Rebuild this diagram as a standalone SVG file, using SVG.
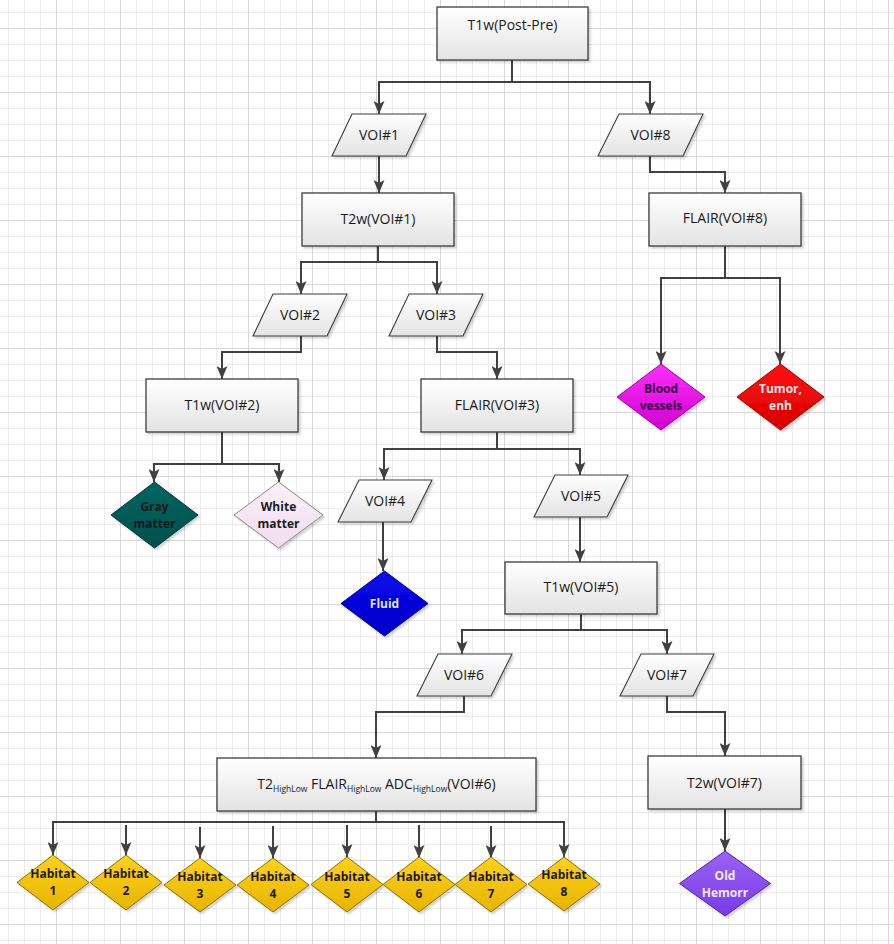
<svg xmlns="http://www.w3.org/2000/svg" width="894" height="944" viewBox="0 0 894 944">
<style>
.box{stroke:#3c3c3c;stroke-width:1.3;fill:url(#gBox);filter:url(#sh)}
.io{stroke:#3c3c3c;stroke-width:1.1;fill:url(#gBox);filter:url(#sh)}
.t{font-family:"Open Sans","Liberation Sans",sans-serif;font-size:14px;fill:#1a1a1a;text-anchor:middle}
.d{font-family:"Open Sans","Liberation Sans",sans-serif;font-size:12px;font-weight:bold;text-anchor:middle}
.dia{stroke-width:1;filter:url(#sh)}
.c{fill:none;stroke:#404040;stroke-width:2}
.ca{fill:none;stroke:#404040;stroke-width:2;marker-end:url(#arr)}
</style>
<defs>
<pattern id="minor" x="8" y="12" width="16" height="16" patternUnits="userSpaceOnUse">
<path d="M0.5,0 V16 M0,0.5 H16" stroke="#ececec" stroke-width="1" fill="none"/>
</pattern>
<pattern id="major" x="56" y="28" width="64" height="64" patternUnits="userSpaceOnUse">
<path d="M0.5,0 V64 M0,0.5 H64" stroke="#d8d8d8" stroke-width="1" fill="none"/>
</pattern>
<linearGradient id="gBox" x1="0" y1="0" x2="0" y2="1"><stop offset="0" stop-color="#ffffff"/><stop offset="1" stop-color="#e3e3e3"/></linearGradient>
<linearGradient id="gGray" x1="0" y1="0" x2="0" y2="1"><stop offset="0" stop-color="#006662"/><stop offset="1" stop-color="#004f4c"/></linearGradient>
<linearGradient id="gWhite" x1="0" y1="0" x2="0" y2="1"><stop offset="0" stop-color="#faf0f8"/><stop offset="1" stop-color="#f1dcef"/></linearGradient>
<linearGradient id="gBlood" x1="0" y1="0" x2="0" y2="1"><stop offset="0" stop-color="#ff30ff"/><stop offset="1" stop-color="#cf00cf"/></linearGradient>
<linearGradient id="gTumor" x1="0" y1="0" x2="0" y2="1"><stop offset="0" stop-color="#ff1010"/><stop offset="1" stop-color="#d80000"/></linearGradient>
<linearGradient id="gFluid" x1="0" y1="0" x2="0" y2="1"><stop offset="0" stop-color="#0a0aec"/><stop offset="1" stop-color="#0000c8"/></linearGradient>
<linearGradient id="gHab" x1="0" y1="0" x2="0" y2="1"><stop offset="0" stop-color="#ffd21a"/><stop offset="1" stop-color="#e6b400"/></linearGradient>
<linearGradient id="gOld" x1="0" y1="0" x2="0" y2="1"><stop offset="0" stop-color="#9c62f6"/><stop offset="1" stop-color="#773be6"/></linearGradient>
<filter id="sh" x="-10%" y="-10%" width="130%" height="130%">
<feDropShadow dx="2" dy="2" stdDeviation="1.2" flood-color="#000" flood-opacity="0.18"/>
</filter>
<marker id="arr" viewBox="0 0 11 13" refX="5.5" refY="13" markerWidth="11" markerHeight="13" markerUnits="userSpaceOnUse" orient="0">
<path d="M0,0 L5.5,3 L11,0 L5.5,13 Z" fill="#404040"/>
</marker>
</defs>
<rect width="894" height="944" fill="#ffffff"/>
<rect width="894" height="944" fill="url(#minor)"/>
<rect width="894" height="944" fill="url(#major)"/>

<g id="connectors">
<path class="ca" d="M512,60 V82 H379 V114"/>
<path class="ca" d="M512,82 H650 V114"/>
<path class="ca" d="M650,156 V172 H725 V193"/>
<path class="ca" d="M379,156 V193"/>
<path class="ca" d="M378,246 V262 H301 V294"/>
<path class="ca" d="M378,262 H437 V294"/>
<path class="ca" d="M301,336 V352 H222 V379"/>
<path class="ca" d="M437,336 V352 H497 V379"/>
<path class="ca" d="M725,246 V278 H661 V364"/>
<path class="ca" d="M725,278 H780 V364"/>
<path class="ca" d="M222,432 V464 H154 V482"/>
<path class="ca" d="M222,464 H279 V482"/>
<path class="ca" d="M497,432 V449 H384 V480"/>
<path class="ca" d="M497,449 H580 V475"/>
<path class="ca" d="M383,522 V571"/>
<path class="ca" d="M580,517 V562"/>
<path class="ca" d="M581,614 V630 H462 V654"/>
<path class="ca" d="M581,630 H667 V654"/>
<path class="ca" d="M464,696 V712 H376 V758"/>
<path class="ca" d="M667,696 V712 H725 V756"/>
<path class="ca" d="M725,809 V851"/>
<path class="ca" d="M376,811 V822 H53 V855"/>
<path class="ca" d="M376,822 H564 V857"/>
<path class="ca" d="M126,825 V855"/>
<path class="ca" d="M200,827 V858"/>
<path class="ca" d="M273,826 V858"/>
<path class="ca" d="M347,825 V857"/>
<path class="ca" d="M419,825 V858"/>
<path class="ca" d="M491,826 V858"/>
</g>

<g id="n-t1w-postpre">
<rect class="box" x="437" y="7" width="151" height="53"/>
<text class="t" x="512.5" y="30">T1w(Post-Pre)</text>
</g>
<g id="n-voi1">
<polygon class="io" points="352,114 426,114 406,156 332,156"/>
<text class="t" x="379" y="140">VOI#1</text>
</g>
<g id="n-voi8">
<polygon class="io" points="619,114 703,114 683,156 598,156"/>
<text class="t" x="650.5" y="140">VOI#8</text>
</g>
<g id="n-t2w-voi1">
<rect class="box" x="302" y="193" width="152" height="53"/>
<text class="t" x="378" y="224">T2w(VOI#1)</text>
</g>
<g id="n-flair-voi8">
<rect class="box" x="649" y="193" width="152" height="53"/>
<text class="t" x="725" y="223">FLAIR(VOI#8)</text>
</g>
<g id="n-voi2">
<polygon class="io" points="273,294 347,294 327,336 253,336"/>
<text class="t" x="300" y="320">VOI#2</text>
</g>
<g id="n-voi3">
<polygon class="io" points="409,294 483,294 463,336 389,336"/>
<text class="t" x="436" y="320">VOI#3</text>
</g>
<g id="n-t1w-voi2">
<rect class="box" x="146" y="379" width="152" height="53"/>
<text class="t" x="222" y="410">T1w(VOI#2)</text>
</g>
<g id="n-flair-voi3">
<rect class="box" x="421" y="379" width="152" height="53"/>
<text class="t" x="497" y="410">FLAIR(VOI#3)</text>
</g>
<g id="n-blood">
<polygon class="dia" fill="url(#gBlood)" stroke="#a000a0" points="661,364 705,397 661,430 617,397"/>
<text class="d" x="661" y="393" fill="#3a0040">Blood</text>
<text class="d" x="661" y="410" fill="#3a0040">vessels</text>
</g>
<g id="n-tumor">
<polygon class="dia" fill="url(#gTumor)" stroke="#a00000" points="780.5,364 824,397 780.5,430 737,397"/>
<text class="d" x="780.5" y="393" fill="#ffe6e6">Tumor,</text>
<text class="d" x="780.5" y="410" fill="#ffe6e6">enh</text>
</g>
<g id="n-gray">
<polygon class="dia" fill="url(#gGray)" stroke="#003835" points="154.5,482 198,515 154.5,548 111,515"/>
<text class="d" x="154.5" y="511" fill="#1a1a1a">Gray</text>
<text class="d" x="154.5" y="528" fill="#1a1a1a">matter</text>
</g>
<g id="n-white">
<polygon class="dia" fill="url(#gWhite)" stroke="#8a8a8a" points="278.5,482 323,515 278.5,548 234,515"/>
<text class="d" x="278.5" y="511" fill="#1a1a1a">White</text>
<text class="d" x="278.5" y="528" fill="#1a1a1a">matter</text>
</g>
<g id="n-voi4">
<polygon class="io" points="359,480 432,480 411,522 338,522"/>
<text class="t" x="385" y="506">VOI#4</text>
</g>
<g id="n-voi5">
<polygon class="io" points="555,475 628,475 607,517 534,517"/>
<text class="t" x="581" y="501">VOI#5</text>
</g>
<g id="n-fluid">
<polygon class="dia" fill="url(#gFluid)" stroke="#000090" points="384.5,571 428,603.5 384.5,636 341,603.5"/>
<text class="d" x="384.5" y="607.5" fill="#e4e4ff">Fluid</text>
</g>
<g id="n-t1w-voi5">
<rect class="box" x="505" y="562" width="152" height="52"/>
<text class="t" x="581" y="592">T1w(VOI#5)</text>
</g>
<g id="n-voi6">
<polygon class="io" points="438,654 512,654 491,696 417,696"/>
<text class="t" x="464" y="680">VOI#6</text>
</g>
<g id="n-voi7">
<polygon class="io" points="641,654 714,654 693,696 620,696"/>
<text class="t" x="667" y="680">VOI#7</text>
</g>
<g id="n-t2highlow">
<rect class="box" x="217" y="758" width="319" height="53"/>
<text class="t" x="376.5" y="789">T2<tspan font-size="8.5" dy="3">HighLow</tspan><tspan dy="-3"> FLAIR</tspan><tspan font-size="8.5" dy="3">HighLow</tspan><tspan dy="-3"> ADC</tspan><tspan font-size="8.5" dy="3">HighLow</tspan><tspan dy="-3">(VOI#6)</tspan></text>
</g>
<g id="n-t2w-voi7">
<rect class="box" x="648" y="756" width="153" height="53"/>
<text class="t" x="724.5" y="788">T2w(VOI#7)</text>
</g>
<g id="n-oldhemorr">
<polygon class="dia" fill="url(#gOld)" stroke="#5520b0" points="725,851 770.5,883.5 725,916 679.5,883.5"/>
<text class="d" x="725" y="879.5" fill="#f2eaff">Old</text>
<text class="d" x="725" y="896.5" fill="#f2eaff">Hemorr</text>
</g>
<g id="n-hab1">
<polygon class="dia" fill="url(#gHab)" stroke="#8a7200" points="53,855 89,882.5 53,910 17,882.5"/>
<text class="d" x="53" y="878" fill="#1a1a1a">Habitat</text>
<text class="d" x="53" y="895" fill="#1a1a1a">1</text>
</g>
<g id="n-hab2">
<polygon class="dia" fill="url(#gHab)" stroke="#8a7200" points="126,855 162,882.5 126,910 90,882.5"/>
<text class="d" x="126" y="878" fill="#1a1a1a">Habitat</text>
<text class="d" x="126" y="895" fill="#1a1a1a">2</text>
</g>
<g id="n-hab3">
<polygon class="dia" fill="url(#gHab)" stroke="#8a7200" points="200,858 236,885 200,912 164,885"/>
<text class="d" x="200" y="881" fill="#1a1a1a">Habitat</text>
<text class="d" x="200" y="898" fill="#1a1a1a">3</text>
</g>
<g id="n-hab4">
<polygon class="dia" fill="url(#gHab)" stroke="#8a7200" points="273,858 309,885 273,912 237,885"/>
<text class="d" x="273" y="881" fill="#1a1a1a">Habitat</text>
<text class="d" x="273" y="898" fill="#1a1a1a">4</text>
</g>
<g id="n-hab5">
<polygon class="dia" fill="url(#gHab)" stroke="#8a7200" points="347,857 383,884.5 347,912 311,884.5"/>
<text class="d" x="347" y="880.5" fill="#1a1a1a">Habitat</text>
<text class="d" x="347" y="897.5" fill="#1a1a1a">5</text>
</g>
<g id="n-hab6">
<polygon class="dia" fill="url(#gHab)" stroke="#8a7200" points="419,857 455,884.5 419,912 383,884.5"/>
<text class="d" x="419" y="880.5" fill="#1a1a1a">Habitat</text>
<text class="d" x="419" y="897.5" fill="#1a1a1a">6</text>
</g>
<g id="n-hab7">
<polygon class="dia" fill="url(#gHab)" stroke="#8a7200" points="491,857 527,884.5 491,912 455,884.5"/>
<text class="d" x="491" y="880.5" fill="#1a1a1a">Habitat</text>
<text class="d" x="491" y="897.5" fill="#1a1a1a">7</text>
</g>
<g id="n-hab8">
<polygon class="dia" fill="url(#gHab)" stroke="#8a7200" points="564,857 600,884 564,911 528,884"/>
<text class="d" x="564" y="879" fill="#1a1a1a">Habitat</text>
<text class="d" x="564" y="896" fill="#1a1a1a">8</text>
</g>
</svg>
